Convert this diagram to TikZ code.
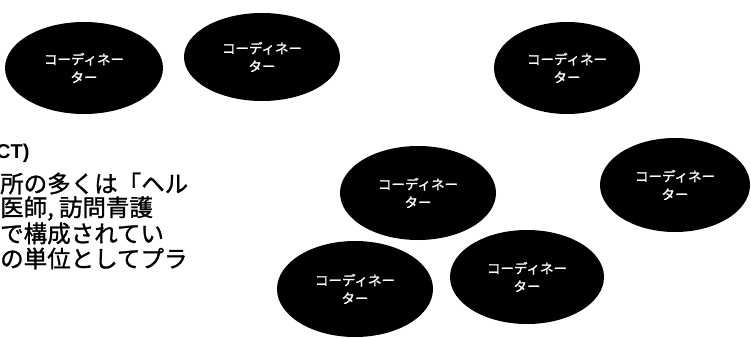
\documentclass[tikz,border=0pt]{standalone}
\usepackage{fontspec}
\setmainfont{Liberation Sans}
\newfontfamily\jp[FakeBold=1.2]{Noto Sans CJK JP}
\newfontfamily\jpl[FakeBold=1.5]{Noto Sans CJK JP}
\usetikzlibrary{shapes.geometric}
\tikzset{
  coord/.style={ellipse, fill=black, draw=none, inner sep=0pt, text=white,
    align=center, font=\jpl\fontsize{13.5}{18}\selectfont},
  bodytext/.style={anchor=west, inner sep=0pt, font=\jp\fontsize{23.5}{24}\selectfont},
}
\begin{document}
\begin{tikzpicture}[x=1pt, y=-1pt]
\useasboundingbox (0,0) rectangle (751,337);
\node[coord, minimum width=158pt, minimum height=92pt] (e1) at (84,68) {コーディネー\\ター};
\node[coord, minimum width=156pt, minimum height=88pt] (e2) at (262,57) {コーディネー\\ター};
\node[coord, minimum width=146pt, minimum height=92pt] (e3) at (567,68) {コーディネー\\ター};
\node[coord, minimum width=156pt, minimum height=94pt] (e4) at (418,193) {コーディネー\\ター};
\node[coord, minimum width=150pt, minimum height=94pt] (e5) at (675,185) {コーディネー\\ター};
\node[coord, minimum width=156pt, minimum height=96pt] (e6) at (355,289) {コーディネー\\ター};
\node[coord, minimum width=154pt, minimum height=94pt] (e7) at (527,277) {コーディネー\\ター};
\node[bodytext, font=\fontsize{20}{22}\selectfont\bfseries] (t0) at (-4,153) {CT)};
\node[bodytext] (t1) at (0,183.5) {所の多くは「ヘル};
\node[bodytext] (t2) at (0,208.5) {医師, 訪問青護};
\node[bodytext] (t3) at (0,233.5) {で構成されてい};
\node[bodytext] (t4) at (0,258.5) {の単位としてプラ};
\end{tikzpicture}
\end{document}
